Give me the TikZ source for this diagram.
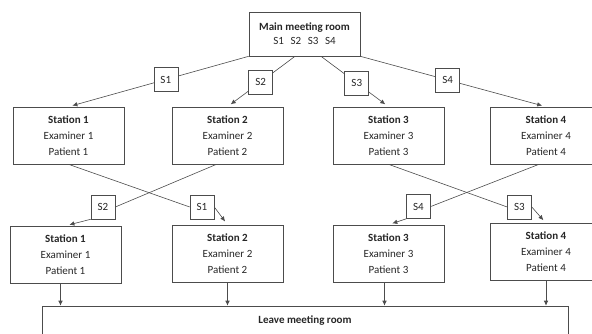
\documentclass[tikz,border=0pt]{standalone}
\usepackage{fontspec}
\setmainfont{Carlito}
\usetikzlibrary{arrows.meta,calc}

\begin{document}
\begin{tikzpicture}[x=1pt, y=-1pt,
	box/.style={draw=black!70, line width=0.6pt, align=center, minimum width=111pt, minimum height=57pt, inner sep=0pt, text=black!85, font=\fontsize{11}{16}\selectfont},
	tag/.style={draw=black!70, fill=white, line width=0.6pt, minimum size=24pt, inner sep=0pt, text=black!85, font=\fontsize{11}{13}\selectfont},
	link/.style={draw=black!70, line width=0.6pt},
	arr/.style={link, -{Latex[length=5pt,width=4.5pt]}, shorten >=4pt}]
			%%%%% START %%%%%
			\useasboundingbox (0, 0) rectangle (592, 334);
			
			\node[box, minimum height=44pt, font=\fontsize{11}{14}\selectfont] (main) at (304.5, 34) {\textbf{Main meeting room}\\S1\hspace{0.6em}S2\hspace{0.6em}S3\hspace{0.6em}S4};
			
			\node[box] (st1a) at (68.5, 135.5) {\textbf{Station 1}\\Examiner 1\\Patient 1};
			\node[box] (st2a) at (227.5, 135.5) {\textbf{Station 2}\\Examiner 2\\Patient 2};
			\node[box] (st3a) at (388.5, 135.5) {\textbf{Station 3}\\Examiner 3\\Patient 3};
			\node[box] (st4a) at (546, 135.5) {\textbf{Station 4}\\Examiner 4\\Patient 4};
			
			\node[box] (st1b) at (65.5, 254.5) {\textbf{Station 1}\\Examiner 1\\Patient 1};
			\node[box] (st2b) at (227.5, 253.5) {\textbf{Station 2}\\Examiner 2\\Patient 2};
			\node[box] (st3b) at (388.5, 253.5) {\textbf{Station 3}\\Examiner 3\\Patient 3};
			\node[box] (st4b) at (546, 252) {\textbf{Station 4}\\Examiner 4\\Patient 4};
			
			\node[box, minimum width=526pt, minimum height=30pt] (leave) at (305, 321) {\textbf{Leave meeting room}};
			
			% first round
			\draw[arr] (main.south west) -- node[tag, pos=0.46] (s1a) {S1} (st1a.north);
			\draw[arr] ([xshift=-9.5pt]main.south) -- node[tag, pos=0.51] (s2a) {S2} (st2a.north);
			\draw[arr] ([xshift=16.5pt]main.south) -- node[tag, pos=0.53] (s3a) {S3} (st3a.north);
			\draw[arr] (main.south east) -- node[tag, pos=0.47] (s4a) {S4} (st4a.north);
			
			% swap
			\node[tag] (s2b) at (103, 207) {S2};
			\node[tag] (s1b) at (202, 207) {S1};
			\node[tag] (s4b) at (418.5, 206.5) {S4};
			\node[tag] (s3b) at (519.5, 207) {S3};
			
			\draw[link] (st1a.south) -- (s1b.west);
			\draw[arr] (s1b.east) -- (st2b.north);
			\draw[link] ([xshift=-11pt]st2a.south) -- (s2b.east);
			\draw[arr] (s2b.south west) -- (st1b.north);
			
			\draw[link] (st3a.south) -- (s3b.west);
			\draw[arr] (s3b.east) -- (st4b.north);
			\draw[link] ([xshift=-7pt]st4a.south) -- (s4b.east);
			\draw[arr] (s4b.south west) -- (st3b.north);
			
			% out
			\draw[arr, shorten >=0pt] ([xshift=-5pt]st1b.south) -- ([xshift=-5pt]st1b.south |- leave.north);
			\draw[arr, shorten >=0pt] (st2b.south) -- (st2b.south |- leave.north);
			\draw[arr, shorten >=0pt] ([xshift=-4pt]st3b.south) -- ([xshift=-4pt]st3b.south |- leave.north);
			\draw[arr, shorten >=0pt] (st4b.south) -- (st4b.south |- leave.north);
			%%%%% END %%%%%
\end{tikzpicture}
\end{document}
